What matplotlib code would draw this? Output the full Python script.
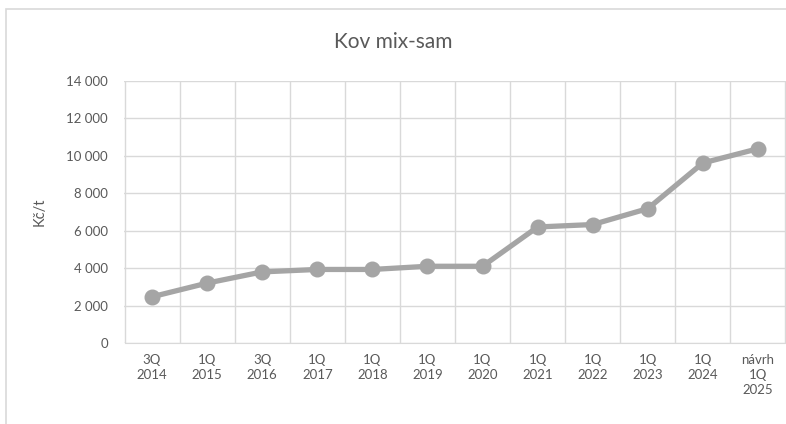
import matplotlib
matplotlib.use("Agg")
import matplotlib.pyplot as plt
from matplotlib.patches import Rectangle
from matplotlib.ticker import FuncFormatter, FixedLocator, NullFormatter

categories = ["3Q\n2014", "1Q\n2015", "3Q\n2016", "1Q\n2017", "1Q\n2018", "1Q\n2019",
              "1Q\n2020", "1Q\n2021", "1Q\n2022", "1Q\n2023", "1Q\n2024", "návrh\n1Q\n2025"]
values = [2470, 3200, 3800, 3930, 3930, 4100, 4100, 6200, 6330, 7180, 9620, 10380]
yticks = [0, 2000, 4000, 6000, 8000, 10000, 12000, 14000]

plt.rcParams['font.family'] = ['Lato', 'DejaVu Sans']
txt = '#595959'
grid = '#D9D9D9'

fig = plt.figure(figsize=(7.86, 4.24), dpi=100)
fig.patches.append(Rectangle((6/786, -0.05), 1.05, 0.979 + 0.05, transform=fig.transFigure,
                             fill=False, edgecolor='#D9D9D9', linewidth=1.2))
ax = fig.add_axes([124.5/786, 1 - 343/424, (785.5 - 124.5)/786, (343 - 81)/424])

x = list(range(len(categories)))
ax.plot(x, values, color='#A5A5A5', linewidth=3.8, marker='o', markersize=10.5,
        markerfacecolor='#A5A5A5', markeredgecolor='#A5A5A5', zorder=3)

ax.set_xlim(-0.5, len(categories) - 0.5)
ax.set_ylim(0, 14000)
ax.set_yticks(yticks)
ax.yaxis.set_major_formatter(FuncFormatter(lambda v, p: f"{int(v):,}".replace(",", " ")))
ax.set_xticks(x)
ax.set_xticklabels(categories, linespacing=1.3)
ax.xaxis.set_minor_locator(FixedLocator([i - 0.5 for i in range(len(categories) + 1)]))
ax.xaxis.set_minor_formatter(NullFormatter())

ax.grid(axis='y', which='major', color=grid, linewidth=1.0)
ax.grid(axis='x', which='minor', color=grid, linewidth=1.0)
ax.set_axisbelow(True)
ax.tick_params(axis='both', which='both', length=0, colors=txt, labelsize=9.5)
ax.tick_params(axis='x', pad=8)
ax.tick_params(axis='y', pad=12)
for s in ['top', 'right', 'left']:
    ax.spines[s].set_visible(False)
ax.spines['bottom'].set_color(grid)

ax.set_ylabel("Kč/t", color=txt, fontsize=10.5, labelpad=14)
fig.text(0.5, 1 - 42/424, "Kov mix-sam", ha='center', va='center', fontsize=15, color=txt)

fig.savefig("out.png", dpi=100)
